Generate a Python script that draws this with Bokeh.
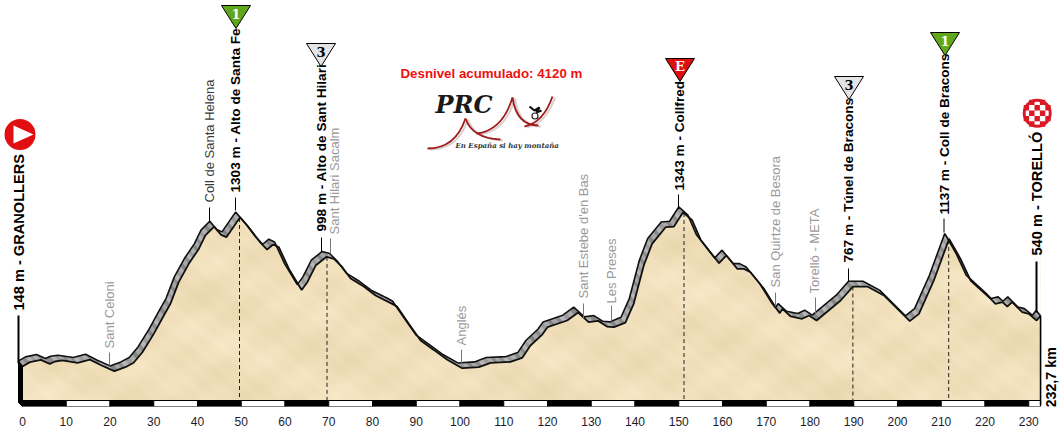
import math
import numpy as np
from bokeh.plotting import figure
from bokeh.embed import file_html
from bokeh.resources import INLINE
from bokeh.core.properties import value

# ---- data -----------------------------------------------------------
km = [0, 1.7, 4.2, 6.25, 7.4, 9.1, 12.6, 15.4, 18.1, 21, 23.5, 25.4, 27.4, 30, 32.3, 33.8, 35.7, 38, 40.3, 41.8,
      43.8, 45.4, 46.6, 49.7, 51.7, 54.3, 55.9, 57.3, 58.6, 60.9, 63.8, 65.1, 67, 69.5, 71.2, 73.1, 75, 78, 80.7,
      84.5, 85.6, 88.3, 91, 94, 97.1, 100.5, 104.3, 107, 111.5, 114.2, 116.1, 118.8, 120, 124.5, 127, 129.4, 131.6,
      133.6, 135.2, 137.8, 139.7, 142, 143.9, 147, 148.9, 151, 153.1, 155, 159.2, 160.9, 163.4, 164.9, 166.4, 169.5,
      172.1, 173.1, 173.7, 175.6, 178.2, 179.8, 181.5, 187, 189.8, 193.1, 196.9, 201.9, 202.8, 204.9, 208.3, 211.8,
      214.4, 216.7, 221.3, 222.4, 224, 225.1, 226.2, 228.5, 230, 231.8, 232.7]
elev = [148, 181, 199, 168, 186, 194, 176, 201, 155, 111, 142, 176, 258, 400, 543, 633, 801, 943, 1059, 1163,
        1232, 1168, 1150, 1303, 1227, 1111, 1054, 1093, 1072, 904, 741, 801, 930, 998, 982, 917, 830, 767, 698,
        633, 612, 478, 349, 276, 199, 134, 142, 176, 183, 214, 310, 395, 452, 504, 566, 491, 501,
        457, 452, 488, 633, 930, 1098, 1227, 1232, 1343, 1279, 1130, 948, 1008, 904, 904, 878, 749,
        607, 561, 594, 535, 517, 543, 504, 659, 767, 767, 698, 530, 499, 555, 814, 1137,
        982, 814, 672, 633, 646, 612, 646, 568, 555, 504, 540]
tick_km = list(range(0, 231, 10))
total_km = 232.7
climb_km = [49.6, 69.6, 151.2, 189.8, 211.7]
title_text = "Desnivel acumulado: 4120 m"

bold_labels = ["148 m - GRANOLLERS", "1303 m - Alto de Santa Fe", "998 m - Alto de Sant Hilari", "1343 m - Collfred",
               "767 m - Túnel de Bracons", "1137 m - Coll de Bracons", "540 m - TORELLÓ", "232,7 km"]
bold_x = [18, 234.5, 321, 678.5, 848, 944, 1036, 1050]
bold_y = [310, 192, 231, 190, 262, 214, 255, 407]
bold_size = ["14.6px", "13.6px", "13.6px", "13.6px", "13.6px", "13.6px", "14.6px", "14.3px"]
gray_labels = ["Sant Celoni", "Sant Hilari Sacalm", "Anglés", "Sant Estebe d'en Bas", "Les Preses",
               "San Quirtze de Besora", "Torelló - META"]
gray_x = [109, 334, 461, 583, 611, 775, 814]
gray_y = [348, 234, 345, 298, 303, 287, 293]

# ---- scale: pixel helpers for layout -------------------------------
def X(px):
    return (px - 22) / 4.375
def Y(py):
    return (385 - py) / 0.129

p = figure(width=1061, height=427, frame_width=1061, frame_height=406,
           x_range=(X(0), X(1061)), y_range=(Y(406), Y(0)),
           output_backend="svg", toolbar_location=None, min_border=0,
           y_axis_location=None, outline_line_color=None, background_fill_color="white", border_fill_color="white")
p.grid.visible = False

ax = p.xaxis[0]
ax.ticker = tick_km
ax.axis_line_color = None
ax.major_tick_line_color = None
ax.minor_tick_line_color = None
ax.major_label_text_font = "Liberation Sans"
ax.major_label_text_font_size = "12px"
ax.major_label_text_color = "#1c1c2c"
ax.major_label_standoff = 4

FONT = value("Liberation Sans")

# ---- terrain texture (deterministic mottling) ----------------------
H, W = 190, 1019
yy, xx = np.mgrid[0:H, 0:W]
tex = (np.sin(xx / 23.0 + yy / 11.0) + np.sin(xx / 9.3 - yy / 7.1) * 0.7 + np.sin(xx / 4.1 + yy / 3.3) * 0.4
       + np.sin(xx / 51.0 + 1.3) * np.cos(yy / 17.0) * 0.9)
img = np.zeros((H, W), dtype=np.uint32)
view = img.view(dtype=np.uint8).reshape((H, W, 4))
view[..., 0] = np.clip(241 + tex * 2.6, 0, 255).astype(np.uint8)
view[..., 1] = np.clip(224 + tex * 3.0, 0, 255).astype(np.uint8)
view[..., 2] = np.clip(187 + tex * 4.2, 0, 255).astype(np.uint8)
view[..., 3] = 255
p.image_rgba(image=[img], x=X(22), y=Y(400), dw=total_km, dh=Y(210) - Y(400))

# white above the terrain
p.patch([0] + km + [total_km, X(1045), X(15), X(15)], [Y(205)] + elev + [Y(205), Y(205), Y(205), Y(205)],
        fill_color="white", line_color=None)

# dashed climb lines
ey = [float(np.interp(k, km, elev)) for k in climb_km]
p.segment(climb_km, ey, climb_km, [Y(400)] * len(climb_km), line_color="#222222", line_width=1, line_dash="4 3")

# road band: terrain line extruded up and to the left
DX, DY = 1.0, 41.0
shades = ["#a6a6a6", "#8c8c8c", "#b6b6b6", "#9a9a9a", "#adadad", "#858585"]
xs, ys, cs = [], [], []
n = 0
for i in range(len(km) - 1):
    pieces = max(1, int(round(math.hypot((km[i + 1] - km[i]) * 4.375, (elev[i + 1] - elev[i]) * 0.129) / 4)))
    for j in range(pieces):
        a, b = j / pieces, (j + 1) / pieces
        x0 = km[i] + (km[i + 1] - km[i]) * a
        x1 = km[i] + (km[i + 1] - km[i]) * b
        y0 = elev[i] + (elev[i + 1] - elev[i]) * a
        y1 = elev[i] + (elev[i + 1] - elev[i]) * b
        xs.append([x0, x1, x1 - DX, x0 - DX])
        ys.append([y0, y1, y1 + DY, y0 + DY])
        cs.append(shades[n % len(shades)])
        n += 1
p.patches(xs, ys, fill_color=cs, line_color=cs, line_width=0.5)
upper_x = [k - DX for k in km]
upper_y = [e + DY for e in elev]
p.line(upper_x, upper_y, line_color="#111111", line_width=1.6)
p.line(km, elev, line_color="#111111", line_width=1.8)
p.segment(upper_x[:1], upper_y[:1], km[:1], elev[:1], line_color="#111111", line_width=1.5)
p.segment(upper_x[-1:], upper_y[-1:], km[-1:], elev[-1:], line_color="#111111", line_width=1.5)

# km bar
left = tick_km
right = tick_km[1:] + [total_km]
cols = ["black" if i % 2 == 0 else "white" for i in range(len(left))]
p.quad(left=left, right=right, bottom=Y(406), top=Y(400), fill_color=cols, line_color="black", line_width=1)

# left and right walls
p.patch([X(18), X(22), X(22), X(18)], [upper_y[0], elev[0], Y(406), Y(402)], fill_color="black", line_color="black")
p.segment([total_km], [elev[-1]], [total_km], [Y(405)], line_color="black", line_width=1.6)

# stems
bk = [(18, 315, 363, 2), (1036, 261, 312, 2), (235, 197, 210, 1), (209, 207, 222, 1), (321, 237, 251, 1),
      (678, 194, 208, 1), (848, 268, 281, 1), (943.5, 218, 232, 1)]
p.segment([X(a) for a, *_ in bk], [Y(b) for _, b, *_ in bk], [X(a) for a, *_ in bk], [Y(c) for _, _, c, _ in bk],
          line_color="black", line_width=[w for *_, w in bk])
gr = [(109, 352, 365), (330, 238, 253), (461, 349, 363), (583, 303, 318), (611, 305, 321), (775, 292, 306), (815, 297, 313)]
p.segment([X(a) for a, *_ in gr], [Y(b) for _, b, _ in gr], [X(a) for a, *_ in gr], [Y(c) for *_, c in gr],
          line_color="#777777", line_width=1)

# labels
p.text([X(v) for v in bold_x], [Y(v) for v in bold_y], text=bold_labels, angle=math.pi / 2, text_align="left",
       text_baseline="middle", text_font=FONT, text_font_size=bold_size, text_font_style="bold", text_color="black")
p.text([X(v) for v in gray_x], [Y(v) for v in gray_y], text=gray_labels, angle=math.pi / 2, text_align="left",
       text_baseline="middle", text_font=FONT, text_font_size="13px", text_color="#9a9a9a")
p.text([X(209)], [Y(202)], text=["Coll de Santa Helena"], angle=math.pi / 2, text_align="left", text_baseline="middle",
       text_font=FONT, text_font_size="13px", text_color="#3a3a3a")
p.text([X(400)], [Y(73)], text=[title_text], text_align="left", text_baseline="middle", text_font=FONT,
       text_font_size="13.3px", text_font_style="bold", text_color="#f01010")

# climb flags
flags = [(235.5, 5, "#5fa81c", "1", "white"), (320.5, 43, "#e4e4e4", "3", "black"), (679.5, 58, "#dd0f0f", "E", "white"),
         (848.5, 76, "#e4e4e4", "3", "black"), (944.5, 32, "#5fa81c", "1", "white")]
for cx, top, col, lab, tc in flags:
    p.patch([X(cx - 14.5), X(cx + 14.5), X(cx)], [Y(top), Y(top), Y(top + 23)], fill_color=col, line_color="black", line_width=1)
    p.text([X(cx)], [Y(top + 8)], text=[lab], text_align="center", text_baseline="middle", text_font=value("DejaVu Serif"),
           text_font_size="13px", text_font_style="bold", text_color=tc)

# start marker
p.scatter([X(19.5)], [Y(134)], size=31, marker="circle", fill_color="#e20f12", line_color=None)
p.patch([X(13), X(13), X(33)], [Y(125), Y(143), Y(134)], fill_color="white", line_color=None)

# finish marker
cx, cy = 1036.7, 112.7
p.scatter([X(cx)], [Y(cy)], size=29, marker="circle", fill_color="#d91a26", line_color=None)
p.scatter([X(cx)], [Y(cy)], size=23, marker="circle", fill_color="white", line_color=None)
S = 5.4
sq = [(i, j) for i in range(-2, 3) for j in range(-2, 3) if (i + j) % 2 == 1 and i * i + j * j <= 5]
p.quad(left=[X(cx + (i - .5) * S) for i, j in sq], right=[X(cx + (i + .5) * S) for i, j in sq],
       top=[Y(cy + (j - .5) * S) for i, j in sq], bottom=[Y(cy + (j + .5) * S) for i, j in sq],
       fill_color="#d91a26", line_color=None)

# PRC logo
p.text([X(435)], [Y(104)], text=["PRC"], text_align="left", text_baseline="middle", text_font=value("DejaVu Serif"),
       text_font_size="24px", text_font_style="bold italic", text_color="#1a1a1a")
p.text([X(455)], [Y(145)], text=["En España si hay montaña"], text_align="left", text_baseline="middle",
       text_font=value("DejaVu Serif"), text_font_size="7px", text_font_style="bold italic", text_color="#333333")
curves = [((427, 148), (455, 148), (465, 118)), ((465, 118), (472, 138), (500, 139)),
          ((476, 133), (502, 130), (512, 97)), ((512, 97), (516, 125), (538, 125)),
          ((524, 126), (543, 122), (552, 96))]
for off, col, wid in ((2.5, "#d8d0d0", 2.0), (0, "#a01c1c", 1.8)):
    p.quadratic([X(a[0] + off) for a, b, c in curves], [Y(a[1] + off * .4) for a, b, c in curves],
                [X(c[0] + off) for a, b, c in curves], [Y(c[1] + off * .4) for a, b, c in curves],
                [X(b[0] + off) for a, b, c in curves], [Y(b[1] + off * .4) for a, b, c in curves],
                line_color=col, line_width=wid)
p.scatter([X(534.5)], [Y(115.5)], size=6, marker="circle", fill_color=None, line_color="#222222", line_width=1.2)
p.line([X(v) for v in (529, 534, 539, 536, 541)], [Y(v) for v in (106, 110, 107, 112, 110)], line_color="#111111", line_width=2.2)

open("out.html", "w").write(file_html(p, INLINE))
